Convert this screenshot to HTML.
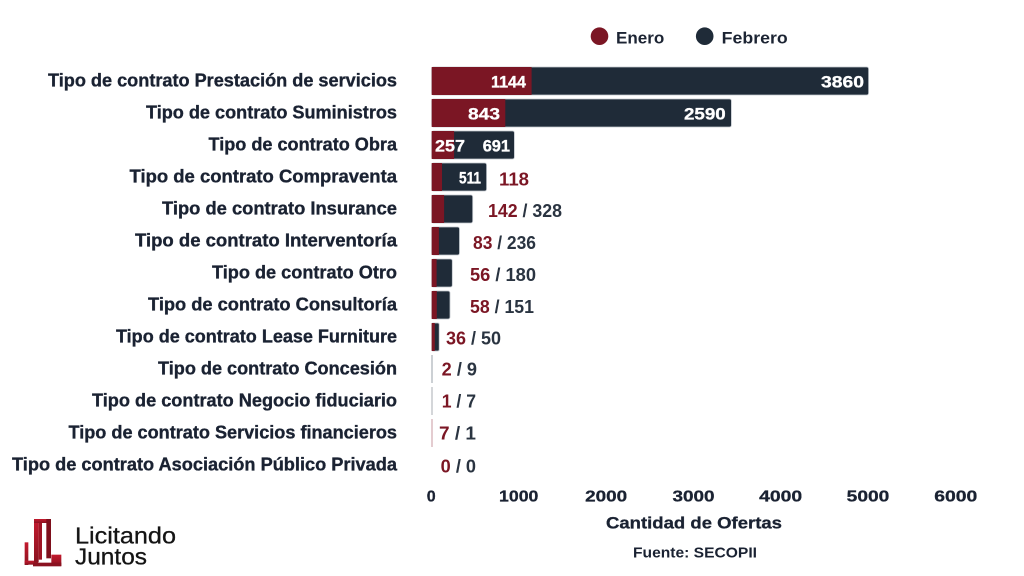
<!DOCTYPE html>
<html>
<head>
<meta charset="utf-8">
<style>
html,body{margin:0;padding:0;background:#ffffff;}
svg{display:block;}
text{font-family:"Liberation Sans",Arial,sans-serif;}
</style>
</head>
<body>
<svg width="1024" height="576" viewBox="0 0 1024 576" xmlns="http://www.w3.org/2000/svg">
<rect width="1024" height="576" fill="#ffffff"/>

<!-- Legend -->
<circle cx="599.5" cy="36.2" r="8.8" fill="#7b1624"/>
<text x="616" y="43.3" font-size="17" font-weight="bold" fill="#1c2433" textLength="48.3" lengthAdjust="spacingAndGlyphs">Enero</text>
<circle cx="704.7" cy="36.2" r="8.8" fill="#1f2b38"/>
<text x="721.7" y="43.3" font-size="17" font-weight="bold" fill="#1c2433" textLength="66" lengthAdjust="spacingAndGlyphs">Febrero</text>

<!-- Category labels -->
<g font-size="18" font-weight="bold" fill="#1a2232" stroke="#1a2232" stroke-width="0.35" text-anchor="end">
<text x="397" y="86.7" textLength="349" lengthAdjust="spacingAndGlyphs">Tipo de contrato Prestación de servicios</text>
<text x="397" y="118.7" textLength="251" lengthAdjust="spacingAndGlyphs">Tipo de contrato Suministros</text>
<text x="397" y="150.7" textLength="188.5" lengthAdjust="spacingAndGlyphs">Tipo de contrato Obra</text>
<text x="397" y="182.7" textLength="267.5" lengthAdjust="spacingAndGlyphs">Tipo de contrato Compraventa</text>
<text x="397" y="214.7" textLength="235" lengthAdjust="spacingAndGlyphs">Tipo de contrato Insurance</text>
<text x="397" y="246.7" textLength="262" lengthAdjust="spacingAndGlyphs">Tipo de contrato Interventoría</text>
<text x="397" y="278.7" textLength="185" lengthAdjust="spacingAndGlyphs">Tipo de contrato Otro</text>
<text x="397" y="310.7" textLength="249" lengthAdjust="spacingAndGlyphs">Tipo de contrato Consultoría</text>
<text x="397" y="342.7" textLength="281" lengthAdjust="spacingAndGlyphs">Tipo de contrato Lease Furniture</text>
<text x="397" y="374.7" textLength="239" lengthAdjust="spacingAndGlyphs">Tipo de contrato Concesión</text>
<text x="397" y="406.7" textLength="305" lengthAdjust="spacingAndGlyphs">Tipo de contrato Negocio fiduciario</text>
<text x="397" y="438.7" textLength="328.5" lengthAdjust="spacingAndGlyphs">Tipo de contrato Servicios financieros</text>
<text x="397" y="470.7" textLength="385" lengthAdjust="spacingAndGlyphs">Tipo de contrato Asociación Público Privada</text>
</g>

<!-- Bars: dark (total) then red (enero) -->
<g stroke="#c3c8ce" stroke-width="0.8">
<rect x="431.7" y="67" width="436.9" height="28" rx="2" fill="#1f2b38"/>
<rect x="431.7" y="99" width="299.7" height="28" rx="2" fill="#1f2b38"/>
<rect x="431.7" y="131" width="82.7" height="28" rx="2" fill="#1f2b38"/>
<rect x="431.7" y="163" width="54.9" height="28" rx="2" fill="#1f2b38"/>
<rect x="431.7" y="195" width="41" height="28" rx="2" fill="#1f2b38"/>
<rect x="431.7" y="227" width="27.8" height="28" rx="2" fill="#1f2b38"/>
<rect x="431.7" y="259" width="20.6" height="28" rx="2" fill="#1f2b38"/>
<rect x="431.7" y="291" width="18.3" height="28" rx="2" fill="#1f2b38"/>
<rect x="431.7" y="323" width="7.5" height="28" rx="1.5" fill="#1f2b38"/>
</g>
<g fill="#7b1624">
<rect x="431.7" y="67" width="99.9" height="28"/>
<rect x="431.7" y="99" width="73.6" height="28"/>
<rect x="431.7" y="131" width="22.4" height="28"/>
<rect x="431.7" y="163" width="10.3" height="28"/>
<rect x="431.7" y="195" width="12.4" height="28"/>
<rect x="431.7" y="227" width="7.2" height="28"/>
<rect x="431.7" y="259" width="4.9" height="28"/>
<rect x="431.7" y="291" width="5.1" height="28"/>
<rect x="431.7" y="323" width="3.1" height="28"/>
</g>
<rect x="431.5" y="355" width="1" height="28" fill="#9aa0a8"/>
<rect x="431.5" y="387" width="1" height="28" fill="#a9adb3"/>
<rect x="431.5" y="419" width="1" height="28" fill="#c89aa0"/>

<!-- In-bar labels -->
<g font-size="16.5" font-weight="bold" fill="#ffffff" stroke="#ffffff" stroke-width="0.3">
<text x="491" y="87.3" textLength="35" lengthAdjust="spacingAndGlyphs">1144</text>
<text x="821" y="87.3" textLength="43" lengthAdjust="spacingAndGlyphs">3860</text>
<text x="468" y="119.3" textLength="32" lengthAdjust="spacingAndGlyphs">843</text>
<text x="684" y="119.3" textLength="41.7" lengthAdjust="spacingAndGlyphs">2590</text>
<text x="435" y="151.3" textLength="30" lengthAdjust="spacingAndGlyphs">257</text>
<text x="482.7" y="151.3" textLength="27.3" lengthAdjust="spacingAndGlyphs">691</text>
<text x="459" y="183.3" textLength="22" lengthAdjust="spacingAndGlyphs">511</text>
</g>

<!-- Outside labels -->
<g font-size="18" font-weight="bold">
<text x="499" y="185.5" fill="#7b1624" textLength="30" lengthAdjust="spacingAndGlyphs">118</text>
<text x="488" y="217" textLength="74" lengthAdjust="spacingAndGlyphs"><tspan fill="#7b1624">142</tspan><tspan fill="#2a3441"> / 328</tspan></text>
<text x="473" y="249" textLength="63" lengthAdjust="spacingAndGlyphs"><tspan fill="#7b1624">83</tspan><tspan fill="#2a3441"> / 236</tspan></text>
<text x="470" y="281" textLength="66" lengthAdjust="spacingAndGlyphs"><tspan fill="#7b1624">56</tspan><tspan fill="#2a3441"> / 180</tspan></text>
<text x="470" y="313" textLength="64" lengthAdjust="spacingAndGlyphs"><tspan fill="#7b1624">58</tspan><tspan fill="#2a3441"> / 151</tspan></text>
<text x="446" y="344.5" textLength="55" lengthAdjust="spacingAndGlyphs"><tspan fill="#7b1624">36</tspan><tspan fill="#2a3441"> / 50</tspan></text>
<text x="441.7" y="375.5" textLength="35.3" lengthAdjust="spacingAndGlyphs"><tspan fill="#7b1624">2</tspan><tspan fill="#2a3441"> / 9</tspan></text>
<text x="441.7" y="407.5" textLength="34.3" lengthAdjust="spacingAndGlyphs"><tspan fill="#7b1624">1</tspan><tspan fill="#2a3441"> / 7</tspan></text>
<text x="439" y="439.5" textLength="37" lengthAdjust="spacingAndGlyphs"><tspan fill="#7b1624">7</tspan><tspan fill="#2a3441"> / 1</tspan></text>
<text x="440.7" y="472.5" textLength="35.3" lengthAdjust="spacingAndGlyphs"><tspan fill="#7b1624">0</tspan><tspan fill="#2a3441"> / 0</tspan></text>
</g>

<!-- X axis ticks -->
<g font-size="16" font-weight="bold" fill="#1a2232" stroke="#1a2232" stroke-width="0.3" text-anchor="middle">
<text x="431.2" y="501.7">0</text>
<text x="518.7" y="501.7" textLength="39.3" lengthAdjust="spacingAndGlyphs">1000</text>
<text x="606.1" y="501.7" textLength="42" lengthAdjust="spacingAndGlyphs">2000</text>
<text x="693.5" y="501.7" textLength="42" lengthAdjust="spacingAndGlyphs">3000</text>
<text x="780.7" y="501.7" textLength="43" lengthAdjust="spacingAndGlyphs">4000</text>
<text x="868" y="501.7" textLength="42.6" lengthAdjust="spacingAndGlyphs">5000</text>
<text x="955.8" y="501.7" textLength="43" lengthAdjust="spacingAndGlyphs">6000</text>
</g>
<text x="606" y="528.3" font-size="17" font-weight="bold" fill="#1a2232" stroke="#1a2232" stroke-width="0.3" textLength="176" lengthAdjust="spacingAndGlyphs">Cantidad de Ofertas</text>
<text x="633" y="557.5" font-size="15" font-weight="bold" fill="#1a2232" textLength="124" lengthAdjust="spacingAndGlyphs">Fuente: SECOPII</text>

<!-- Logo -->
<defs>
<linearGradient id="lg" x1="0" y1="0" x2="0" y2="1">
<stop offset="0" stop-color="#c41a2e"/>
<stop offset="1" stop-color="#8a1220"/>
</linearGradient>
</defs>
<g transform="translate(18,514) scale(0.3333)">
<rect x="20" y="85" width="11" height="68" fill="url(#lg)"/>
<rect x="20" y="140" width="40" height="12" fill="url(#lg)"/>
<rect x="48" y="15" width="14" height="130" fill="url(#lg)"/>
<rect x="48" y="15" width="45" height="12" fill="url(#lg)"/>
<rect x="85" y="15" width="14" height="118" fill="#7e0f1c"/>
<rect x="62" y="27" width="10" height="110" fill="#9e1424"/>
<rect x="100" y="122" width="30" height="34" fill="url(#lg)"/>
<rect x="45" y="146" width="85" height="11" fill="#8a1220"/>
</g>
<text x="75" y="543.3" font-size="23" fill="#141414" stroke="#141414" stroke-width="0.3" textLength="101" lengthAdjust="spacingAndGlyphs">Licitando</text>
<text x="75" y="564.3" font-size="23" fill="#141414" stroke="#141414" stroke-width="0.3" textLength="72" lengthAdjust="spacingAndGlyphs">Juntos</text>
</svg>
</body>
</html>
